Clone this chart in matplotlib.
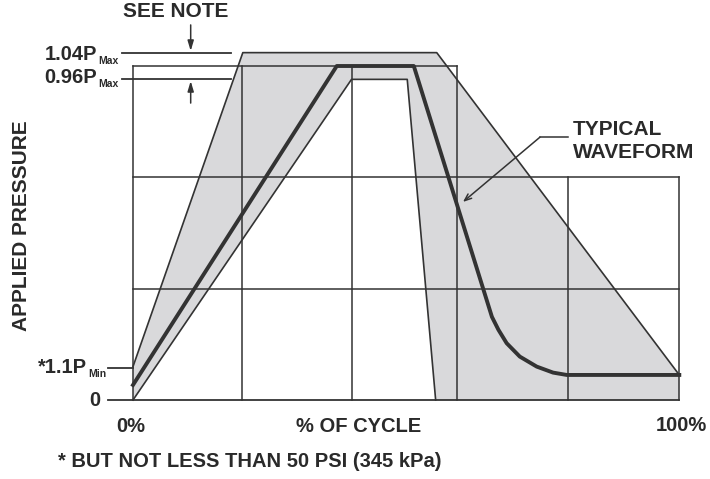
import numpy as np
import matplotlib
matplotlib.use('Agg')
import matplotlib.pyplot as plt

plt.rcParams['font.family'] = ['Liberation Sans', 'DejaVu Sans']
plt.rcParams['font.weight'] = 'bold'

# data: x in % of cycle, y as fraction of Pmax
upper_x = [0, 20.1, 55.6, 100]
upper_y = [0.10, 1.04, 1.04, 0.075]
lower_x = [0, 40.0, 50.2, 55.4]
lower_y = [0, 0.96, 0.96, 0]
typ_x = [0, 37.3, 51.4, 65.7, 66.9, 68.4, 70.8, 73.9, 76.9, 79.4, 100]
typ_y = [0.045, 1.0, 1.0, 0.249, 0.21, 0.17, 0.13, 0.10, 0.082, 0.075, 0.075]

grid_x = [0, 20, 40, 59.3, 79.6, 100]
grid_top = [1, 1, 1, 1, 2 / 3, 2 / 3]
grid_y = [1, 2 / 3, 1 / 3]
grid_right = [59.3, 100, 100]

p_hi, p_lo, p_min = 1.04, 0.96, 0.097

ink = '#333333'
txt = '#2a2a2a'
fill = '#d9d9db'

fig = plt.figure(figsize=(7.1, 4.79), dpi=100)
ax = fig.add_axes([133 / 710, 79 / 479, 546.3 / 710, 334 / 479])
ax.set_xlim(0, 100)
ax.set_ylim(0, 1)
ax.axis('off')

# tolerance band
poly_x = np.r_[upper_x, 100, lower_x[::-1]]
poly_y = np.r_[upper_y, 0, lower_y[::-1]]
ax.fill(poly_x, poly_y, color=fill, lw=0, zorder=1, clip_on=False)

# grid
for gx, gt in zip(grid_x, grid_top):
    ax.plot([gx, gx], [0, gt], color=ink, lw=1.1, zorder=2, clip_on=False)
for gy, gr in zip(grid_y, grid_right):
    ax.plot([0, gr], [gy, gy], color=ink, lw=1.1, zorder=2, clip_on=False)
ax.plot([-4.6, 100], [0, 0], color=ink, lw=1.3, zorder=2, clip_on=False)
ax.plot([-4.6, 0], [p_min, p_min], color=ink, lw=1.3, zorder=2, clip_on=False)

# envelopes + typical waveform
ax.plot(upper_x, upper_y, color=ink, lw=1.2, zorder=3, clip_on=False)
ax.plot(lower_x, lower_y, color=ink, lw=1.2, zorder=3, clip_on=False)
ax.plot(typ_x, typ_y, color=ink, lw=2.8, zorder=4, clip_on=False,
        solid_joinstyle='round')

# Pmax limit lines and note
ax.plot([-2.1, 17.9], [p_hi, p_hi], color=ink, lw=1.3, clip_on=False)
ax.plot([-2.1, 17.9], [p_lo, p_lo], color=ink, lw=1.3, clip_on=False)
arr = dict(arrowstyle='-|>,head_width=0.18,head_length=0.6', color=ink, lw=1.1,
           shrinkA=0, shrinkB=0)
ax.annotate('', xy=(10.56, p_hi + 0.005), xytext=(10.56, 1.123), arrowprops=arr,
            annotation_clip=False)
ax.annotate('', xy=(10.56, p_lo - 0.005), xytext=(10.56, 0.889), arrowprops=arr,
            annotation_clip=False)
ax.text(7.9, 1.162, 'SEE NOTE', ha='center', va='center', fontsize=15,
        color=txt, clip_on=False)

# y labels
ax.text(-6.6, 1.018, '1.04P', ha='right', va='baseline', fontsize=14.5, color=txt)
ax.text(-6.3, 1.006, 'Max', ha='left', va='baseline', fontsize=7.5, color=txt)
ax.text(-6.6, 0.948, '0.96P', ha='right', va='baseline', fontsize=14.5, color=txt)
ax.text(-6.3, 0.936, 'Max', ha='left', va='baseline', fontsize=7.5, color=txt)
ax.text(-8.4, 0.080, '*1.1P', ha='right', va='baseline', fontsize=14.5, color=txt)
ax.text(-8.2, 0.068, 'Min', ha='left', va='baseline', fontsize=7.5, color=txt)
ax.text(-6.0, -0.018, '0', ha='right', va='baseline', fontsize=14.5, color=txt)
ax.text(-20.5, 0.521, 'APPLIED PRESSURE', rotation=90, ha='center', va='center',
        fontsize=15, color=txt)

# x labels
ax.text(-0.4, -0.096, '0%', ha='center', va='baseline', fontsize=14.5, color=txt)
ax.text(41.3, -0.096, '% OF CYCLE', ha='center', va='baseline', fontsize=14.5, color=txt)
ax.text(105.1, -0.093, '100%', ha='right', va='baseline', fontsize=14.5, color=txt)
ax.text(-13.7, -0.2, '* BUT NOT LESS THAN 50 PSI (345 kPa)', ha='left',
        va='baseline', fontsize=14.5, color=txt)

# typical waveform callout
ax.text(80.5, 0.793, 'TYPICAL', ha='left', va='baseline', fontsize=15, color=txt)
ax.text(80.5, 0.725, 'WAVEFORM', ha='left', va='baseline', fontsize=15, color=txt)
ax.plot([79.6, 74.5], [0.787, 0.787], color=ink, lw=1.1, clip_on=False)
ax.annotate('', xy=(60.4, 0.593), xytext=(74.5, 0.787),
            arrowprops=dict(arrowstyle='->,head_width=0.2,head_length=0.5',
                            color=ink, lw=1.1, shrinkA=0, shrinkB=0),
            annotation_clip=False)

fig.savefig('out.png', dpi=100)
